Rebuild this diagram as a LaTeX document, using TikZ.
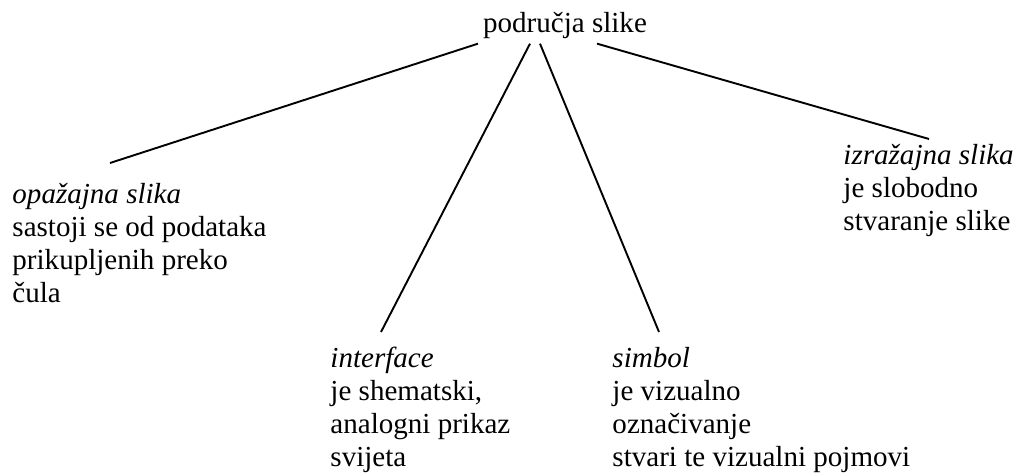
\documentclass[tikz,border=0pt]{standalone}
\usepackage{fontspec}
\setmainfont{Liberation Serif}
\usetikzlibrary{calc}

\begin{document}
\begin{tikzpicture}
            [x=0.42pt, y=-0.42pt,
             myText/.style={anchor=north west,
                        align=left,
                        inner sep=0pt,
                        font=\fontsize{12.2}{13.8}\selectfont},
             myLine/.style={line width=0.8pt}]

            \useasboundingbox (0,0) rectangle (1016,476);

            \node[anchor=base, inner sep=0pt, font=\fontsize{12.2}{13.8}\selectfont] (imageAreas) at (565,33) {područja slike};

            \node[myText] (perceptualImage) at ( 12,183) {\textit{opažajna slika}\\sastoji se od podataka\\prikupljenih preko\\čula};
            \node[myText] (interfaceImage) at (330,347) {\textit{interface}\\je shematski,\\analogni prikaz\\svijeta};
            \node[myText] (symbolImage) at (612,347) {\textit{simbol}\\je vizualno\\označivanje\\stvari te vizualni pojmovi};
            \node[myText] (expressiveImage) at (843,144) {\textit{izražajna slika}\\je slobodno\\stvaranje slike};

            \draw [myLine] ($(imageAreas.south)+(-87,4)$) to ($(perceptualImage.north west)+(98,-20)$);
            \draw [myLine] ($(imageAreas.south)+(-35,4)$) to ($(interfaceImage.north west)+(51,-15)$);
            \draw [myLine] ($(imageAreas.south)+(-25,4)$) to ($(symbolImage.north west)+(47,-15)$);
            \draw [myLine] ($(imageAreas.south)+(32,4)$) to ($(expressiveImage.north west)+(86,-5)$);
        \end{tikzpicture}
\end{document}
